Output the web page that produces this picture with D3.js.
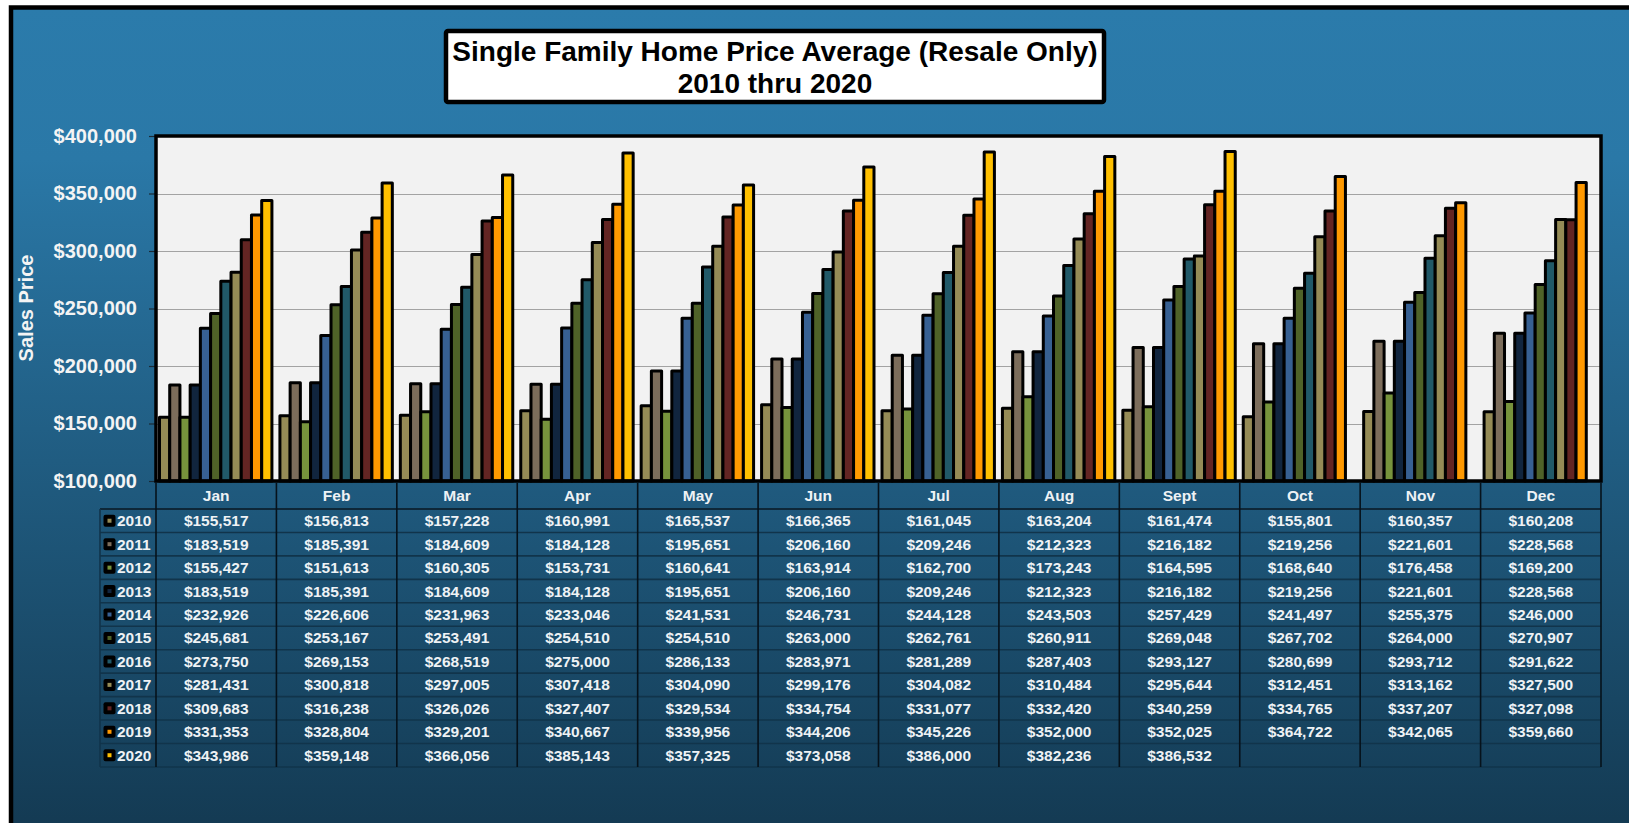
<!DOCTYPE html>
<html>
<head>
<meta charset="utf-8">
<script src="https://cdn.jsdelivr.net/npm/d3@7"></script>
<style>
  body { margin: 0; background: #fff; }
  text { font-family: "Liberation Sans", Arial, sans-serif; font-weight: bold; }
</style>
</head>
<body>
<script>
var svgWidth = 1629;
var svgHeight = 823;

var months = ["Jan", "Feb", "Mar", "Apr", "May", "Jun", "Jul", "Aug", "Sept", "Oct", "Nov", "Dec"];
var years = ["2010", "2011", "2012", "2013", "2014", "2015", "2016", "2017", "2018", "2019", "2020"];
var yTicks = [100000, 150000, 200000, 250000, 300000, 350000, 400000];

var p2010 = [155517, 156813, 157228, 160991, 165537, 166365, 161045, 163204, 161474, 155801, 160357, 160208];
var p2011 = [183519, 185391, 184609, 184128, 195651, 206160, 209246, 212323, 216182, 219256, 221601, 228568];
var p2012 = [155427, 151613, 160305, 153731, 160641, 163914, 162700, 173243, 164595, 168640, 176458, 169200];
var p2013 = [183519, 185391, 184609, 184128, 195651, 206160, 209246, 212323, 216182, 219256, 221601, 228568];
var p2014 = [232926, 226606, 231963, 233046, 241531, 246731, 244128, 243503, 257429, 241497, 255375, 246000];
var p2015 = [245681, 253167, 253491, 254510, 254510, 263000, 262761, 260911, 269048, 267702, 264000, 270907];
var p2016 = [273750, 269153, 268519, 275000, 286133, 283971, 281289, 287403, 293127, 280699, 293712, 291622];
var p2017 = [281431, 300818, 297005, 307418, 304090, 299176, 304082, 310484, 295644, 312451, 313162, 327500];
var p2018 = [309683, 316238, 326026, 327407, 329534, 334754, 331077, 332420, 340259, 334765, 337207, 327098];
var p2019 = [331353, 328804, 329201, 340667, 339956, 344206, 345226, 352000, 352025, 364722, 342065, 359660];
var p2020 = [343986, 359148, 366056, 385143, 357325, 373058, 386000, 382236, 386532, null, null, null];

var colors = ["#958b56", "#7c6d5b", "#77933c", "#11253e", "#376092", "#4f6228",
              "#215968", "#958b56", "#632523", "#ff9900", "#ffc000"];

var series = [p2010, p2011, p2012, p2013, p2014, p2015, p2016, p2017, p2018, p2019, p2020];

var plot = { left: 156, right: 1601, top: 136, bottom: 481 };

var svg = d3.select("body")
  .append("svg")
  .attr("width", svgWidth)
  .attr("height", svgHeight);

var defs = svg.append("defs");
var grad = defs.append("linearGradient")
  .attr("id", "bg")
  .attr("x1", 0).attr("y1", 0).attr("x2", 0).attr("y2", 1);
grad.append("stop").attr("offset", "0%").attr("stop-color", "#2b7bab");
grad.append("stop").attr("offset", "18%").attr("stop-color", "#2a78a7");
grad.append("stop").attr("offset", "100%").attr("stop-color", "#133850");

// outer frame, cropped on the right and bottom
svg.append("rect")
  .attr("x", 11).attr("y", 7.5)
  .attr("width", svgWidth + 20).attr("height", svgHeight + 20)
  .attr("fill", "url(#bg)")
  .attr("stroke", "#000")
  .attr("stroke-width", 4.5);

// title box
svg.append("rect")
  .attr("x", 446).attr("y", 31)
  .attr("width", 658).attr("height", 71)
  .attr("rx", 2)
  .attr("fill", "#fff")
  .attr("stroke", "#000")
  .attr("stroke-width", 4.5);

svg.append("text")
  .attr("x", 775).attr("y", 61)
  .attr("text-anchor", "middle")
  .attr("font-size", "28px")
  .attr("fill", "#000")
  .text("Single Family Home Price Average (Resale Only)");

svg.append("text")
  .attr("x", 775).attr("y", 93)
  .attr("text-anchor", "middle")
  .attr("font-size", "28px")
  .attr("fill", "#000")
  .text("2010 thru 2020");

// scales
var x0 = d3.scaleBand()
  .domain(months)
  .range([plot.left, plot.right]);

var x1 = d3.scaleBand()
  .domain(years)
  .range([3.5, x0.bandwidth() - 4.5]);

var y = d3.scaleLinear()
  .domain([100000, 400000])
  .range([plot.bottom, plot.top]);

// plot background
svg.append("rect")
  .attr("x", plot.left).attr("y", plot.top)
  .attr("width", plot.right - plot.left).attr("height", plot.bottom - plot.top)
  .attr("fill", "#f2f2f2");

// gridlines
svg.append("g")
  .selectAll("line")
  .data(yTicks.slice(1, -1))
  .enter()
  .append("line")
  .attr("x1", plot.left).attr("x2", plot.right)
  .attr("y1", d => Math.round(y(d)) + 0.5)
  .attr("y2", d => Math.round(y(d)) + 0.5)
  .attr("stroke", "#a3a3a3")
  .attr("stroke-width", 1.2);

// y axis
var yAxis = svg.append("g")
  .attr("transform", "translate(" + (plot.left - 1) + ",0)")
  .call(d3.axisLeft(y)
    .tickValues(yTicks)
    .tickSize(6)
    .tickPadding(12)
    .tickFormat(d => "$" + d3.format(",")(d)));
yAxis.select(".domain").remove();
yAxis.selectAll(".tick line").attr("stroke", "#1a2a36").attr("stroke-width", 1.2);
yAxis.selectAll(".tick text")
  .attr("fill", "#f4f4f4")
  .attr("font-size", "20px")
  .style("font-family", "'Liberation Sans', Arial, sans-serif")
  .style("font-weight", "bold");

svg.append("text")
  .attr("transform", "translate(33,308) rotate(-90)")
  .attr("text-anchor", "middle")
  .attr("font-size", "20px")
  .attr("fill", "#f4f4f4")
  .text("Sales Price");

// bars
var groups = svg.append("g")
  .selectAll("g")
  .data(months)
  .enter()
  .append("g")
  .attr("transform", d => "translate(" + x0(d) + ",0)");

groups.selectAll("rect")
  .data((m, i) => years.map((yr, j) => ({ year: yr, idx: j, value: series[j][i] }))
    .filter(d => d.value != null))
  .enter()
  .append("rect")
  .attr("x", d => x1(d.year))
  .attr("y", d => y(d.value))
  .attr("width", x1.bandwidth())
  .attr("height", d => plot.bottom - y(d.value))
  .attr("fill", d => colors[d.idx])
  .attr("stroke", "#000")
  .attr("stroke-width", 3)
  .attr("stroke-linejoin", "round");

// plot border
svg.append("rect")
  .attr("x", plot.left).attr("y", plot.top)
  .attr("width", plot.right - plot.left).attr("height", plot.bottom - plot.top)
  .attr("fill", "none")
  .attr("stroke", "#000")
  .attr("stroke-width", 3.5);

// data table
var tableTop = plot.bottom + 1.5;
var headH = 26.5;
var rowH = 23.45;
var legendLeft = 100;
var rowsTop = tableTop + headH;
var tableBottom = rowsTop + rowH * years.length;

var table = svg.append("g");

// horizontal row lines
table.selectAll("line.row")
  .data(d3.range(years.length + 1))
  .enter()
  .append("line")
  .attr("class", "row")
  .attr("x1", legendLeft).attr("x2", plot.right)
  .attr("y1", d => rowsTop + d * rowH)
  .attr("y2", d => rowsTop + d * rowH)
  .attr("stroke", d => d === 0 ? "#0e2738" : "#11344b")
  .attr("stroke-width", d => d === 0 ? 2 : 1.6);

// vertical column lines
table.selectAll("line.col")
  .data(months.map(m => x0(m)).concat([plot.right]))
  .enter()
  .append("line")
  .attr("class", "col")
  .attr("x1", d => d).attr("x2", d => d)
  .attr("y1", tableTop).attr("y2", tableBottom)
  .attr("stroke", "#06121b")
  .attr("stroke-width", 1.6);

table.append("line")
  .attr("x1", legendLeft).attr("x2", legendLeft)
  .attr("y1", rowsTop).attr("y2", tableBottom)
  .attr("stroke", "#11344b")
  .attr("stroke-width", 1.6);

// month headers
table.selectAll("text.month")
  .data(months)
  .enter()
  .append("text")
  .attr("class", "month")
  .attr("x", d => x0(d) + x0.bandwidth() / 2)
  .attr("y", tableTop + headH / 2 + 5.5)
  .attr("text-anchor", "middle")
  .attr("font-size", "15.5px")
  .attr("fill", "#eef2f5")
  .text(d => d);

// legend keys and year labels
var leg = table.selectAll("g.leg")
  .data(years)
  .enter()
  .append("g")
  .attr("class", "leg")
  .attr("transform", (d, i) => "translate(0," + (rowsTop + i * rowH) + ")");

leg.append("rect")
  .attr("x", 103.5).attr("y", rowH / 2 - 6)
  .attr("width", 12).attr("height", 12)
  .attr("rx", 2)
  .attr("fill", "#000");

leg.append("rect")
  .attr("x", 107.5).attr("y", rowH / 2 - 2)
  .attr("width", 4).attr("height", 4)
  .attr("fill", (d, i) => colors[i]);

leg.append("text")
  .attr("x", 117)
  .attr("y", rowH / 2 + 5.5)
  .attr("font-size", "15.5px")
  .attr("fill", "#eef2f5")
  .text(d => d);

// values
var fmt = d3.format(",");
years.forEach(function(yr, j) {
  table.selectAll("text.v" + yr)
    .data(series[j])
    .enter()
    .append("text")
    .attr("x", (d, i) => x0(months[i]) + x0.bandwidth() / 2)
    .attr("y", rowsTop + j * rowH + rowH / 2 + 5.5)
    .attr("text-anchor", "middle")
    .attr("font-size", "15.5px")
    .attr("fill", "#eef2f5")
    .text(d => d == null ? "" : "$" + fmt(d));
});
</script>
</body>
</html>
